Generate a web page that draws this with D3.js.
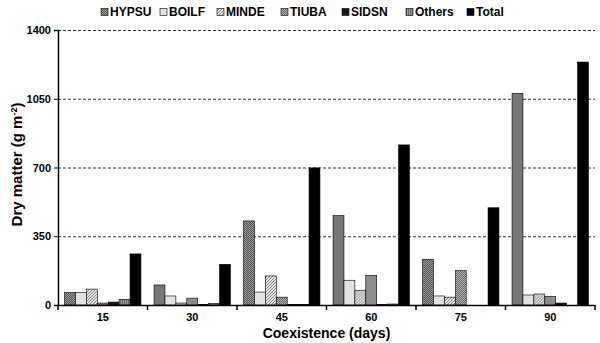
<!DOCTYPE html>
<html>
<head>
<meta charset="utf-8">
<script src="https://cdn.jsdelivr.net/npm/d3@7"></script>
<style>
body { margin: 0; background: #fff; }
</style>
</head>
<body>
<div id="chart"></div>
<script>
// data
var days = ['15', '30', '45', '60', '75', '90'];
var species = ['HYPSU', 'BOILF', 'MINDE', 'TIUBA', 'SIDSN', 'Others', 'Total'];
var HYPSU = [63, 102, 428, 455, 233, 1078];
var BOILF = [63, 46, 66, 126, 46, 51];
var MINDE = [81, 10, 148, 75, 40, 56];
var TIUBA = [10, 35, 40, 151, 175, 44];
var SIDSN = [15, 2, 3, 3, 0, 10];
var Others = [29, 8, 3, 5, 0, 0];
var Total = [260, 207, 698, 815, 495, 1237];
var yTicks = [0, 350, 700, 1050, 1400];

var series = { HYPSU: HYPSU, BOILF: BOILF, MINDE: MINDE, TIUBA: TIUBA, SIDSN: SIDSN, Others: Others, Total: Total };

var W = 600, H = 343;
var M = { left: 58, right: 5, top: 30, bottom: 38 };
var FONT = 'Liberation Sans, Arial, sans-serif';

var svg = d3.select('#chart').append('svg').attr('width', W).attr('height', H)
    .attr('font-family', FONT).attr('font-weight', 'bold');

// fills, kind of like the dithered ones in the original
var defs = svg.append('defs');
function checker(id, a, b) {
    var p = defs.append('pattern').attr('id', id).attr('width', 2).attr('height', 2).attr('patternUnits', 'userSpaceOnUse');
    p.append('rect').attr('width', 2).attr('height', 2).attr('fill', a);
    p.append('rect').attr('width', 1).attr('height', 1).attr('fill', b);
    p.append('rect').attr('x', 1).attr('y', 1).attr('width', 1).attr('height', 1).attr('fill', b);
}
checker('p-hypsu', '#555', '#999');
checker('p-tiuba', '#6a6a6a', '#b0b0b0');
var hatch = defs.append('pattern').attr('id', 'p-minde').attr('width', 3).attr('height', 3)
    .attr('patternUnits', 'userSpaceOnUse');
hatch.append('rect').attr('width', 3).attr('height', 3).attr('fill', '#e4e4e4');
hatch.append('path').attr('d', 'M0,3 L3,0 M-1,1 L1,-1 M2,4 L4,2').attr('stroke', '#888').attr('stroke-width', 1);
var stripe = defs.append('pattern').attr('id', 'p-others').attr('width', 2).attr('height', 2)
    .attr('patternUnits', 'userSpaceOnUse');
stripe.append('rect').attr('width', 2).attr('height', 2).attr('fill', '#999');
stripe.append('rect').attr('width', 1).attr('height', 2).attr('fill', '#666');

var fills = {
    HYPSU: 'url(#p-hypsu)',
    BOILF: '#e2e2e2',
    MINDE: 'url(#p-minde)',
    TIUBA: 'url(#p-tiuba)',
    SIDSN: '#1a1a1a',
    Others: 'url(#p-others)',
    Total: '#000'
};

var x0 = d3.scaleBand().domain(days).range([M.left, W - M.right]).paddingInner(0).paddingOuter(0);
var x1 = d3.scaleBand().domain(species).range([0, x0.bandwidth()]).paddingOuter(0.6).paddingInner(0);
var y = d3.scaleLinear().domain([0, 1400]).range([H - M.bottom, M.top]);

// grid
svg.append('g').selectAll('line').data(yTicks.slice(1)).enter().append('line')
    .attr('x1', M.left).attr('x2', W - M.right)
    .attr('y1', d => y(d) + 0.5).attr('y2', d => y(d) + 0.5)
    .attr('stroke', '#333').attr('stroke-dasharray', '3,2').attr('stroke-width', 1);

// bars
var groups = svg.append('g').selectAll('g').data(days).enter().append('g')
    .attr('transform', d => 'translate(' + x0(d) + ',0)');
groups.selectAll('rect').data((d, i) => species.map(s => ({ s: s, v: series[s][i] }))).enter()
    .append('rect')
    .attr('x', d => x1(d.s))
    .attr('width', x1.bandwidth())
    .attr('y', d => y(d.v))
    .attr('height', d => y(0) - y(d.v))
    .attr('fill', d => fills[d.s])
    .attr('stroke', '#000').attr('stroke-width', 0.6);

// axes
var yAxis = svg.append('g').attr('transform', 'translate(' + M.left + ',0)')
    .call(d3.axisLeft(y).tickValues(yTicks).tickFormat(d3.format('d')).tickSize(4).tickPadding(3));
yAxis.attr('font-family', FONT).attr('font-size', 11);
yAxis.select('.domain').attr('stroke-width', 1.5);
yAxis.selectAll('text').attr('fill', '#000');

var xAxis = svg.append('g').attr('transform', 'translate(0,' + y(0) + ')')
    .call(d3.axisBottom(x0).tickSize(0).tickPadding(8));
xAxis.attr('font-family', FONT).attr('font-size', 11);
xAxis.select('.domain').attr('stroke-width', 1.5);
xAxis.selectAll('text').attr('fill', '#000');
// separators between groups
xAxis.selectAll('line.sep').data(d3.range(days.length + 1)).enter().append('line')
    .attr('class', 'sep')
    .attr('x1', i => M.left + i * x0.step()).attr('x2', i => M.left + i * x0.step())
    .attr('y1', 0).attr('y2', 5).attr('stroke', '#000').attr('stroke-width', 1.5);

// axis titles
svg.append('text').attr('x', (M.left + W - M.right) / 2).attr('y', 338)
    .attr('text-anchor', 'middle').attr('font-size', 14).text('Coexistence (days)');
var yl = svg.append('text').attr('transform', 'translate(22,' + ((M.top + H - M.bottom) / 2 - 3) + ') rotate(-90)')
    .attr('text-anchor', 'middle').attr('font-size', 15);
yl.append('tspan').text('Dry matter (g m');
yl.append('tspan').attr('dy', -5).attr('font-size', 9).text('-2');
yl.append('tspan').attr('dy', 5).text(')');

// legend
var legX = [101, 160, 217, 281, 342, 406, 467];
var leg = svg.append('g').selectAll('g').data(species).enter().append('g')
    .attr('transform', (d, i) => 'translate(' + legX[i] + ',8)');
leg.append('rect').attr('width', 7).attr('height', 7).attr('y', 0.5)
    .attr('fill', d => fills[d]).attr('stroke', '#000').attr('stroke-width', 0.6);
leg.append('text').attr('x', 9).attr('y', 8).attr('font-size', 12).text(d => d);
</script>
</body>
</html>
